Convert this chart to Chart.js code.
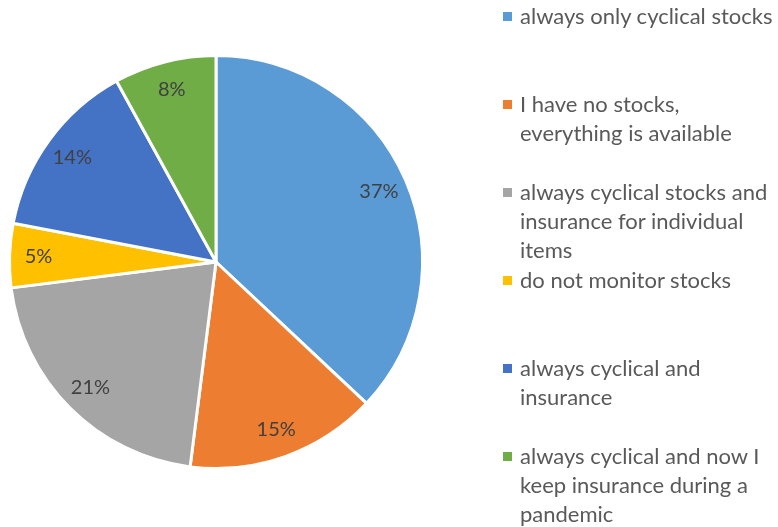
<!DOCTYPE html>
<html>
<head>
<meta charset="utf-8">
<script src="https://cdn.jsdelivr.net/npm/chart.js@4.4.1/dist/chart.umd.min.js"></script>
<style>
  html, body { margin: 0; padding: 0; background: #fff; }
  #wrap { position: relative; width: 778px; height: 527px; overflow: hidden; }
  #pie { position: absolute; left: 0; top: 0; }
  #legend { position: absolute; left: 0; top: 0; width: 778px; height: 527px; pointer-events: none;
    font-family: Lato, "Open Sans", sans-serif; font-size: 22px; color: #595959; }
  .item { position: absolute; left: 520px; line-height: 29px; white-space: nowrap; }
  .box { position: absolute; left: -17px; top: 11px; width: 9px; height: 9px; }
</style>
</head>
<body>
<div id="wrap">
  <canvas id="pie" width="778" height="527"></canvas>
  <div id="legend"></div>
</div>
<script>
// categories, one array per line of the wrapped legend text
var labels = [
  ["always only cyclical stocks"],
  ["I have no stocks,", "everything is available"],
  ["always cyclical stocks and", "insurance for individual", "items"],
  ["do not monitor stocks"],
  ["always cyclical and", "insurance"],
  ["always cyclical and now I", "keep insurance during a", "pandemic"]
];
var shares = [37, 15, 21, 5, 14, 8];
var colors = ["#5B9BD5", "#ED7D31", "#A5A5A5", "#FFC000", "#4472C4", "#70AD47"];

// percent labels inside the slices, near the rim
var pctLabels = {
  id: 'pctLabels',
  afterDatasetsDraw: function(chart) {
    var ctx = chart.ctx;
    var meta = chart.getDatasetMeta(0);
    ctx.save();
    ctx.font = '20px Lato, "Open Sans", sans-serif';
    ctx.fillStyle = '#404040';
    ctx.textAlign = 'center';
    ctx.textBaseline = 'middle';
    meta.data.forEach(function(arc, i) {
      var mid = (arc.startAngle + arc.endAngle) / 2;
      var r = arc.outerRadius * 0.86;
      ctx.fillText(shares[i] + '%', arc.x + Math.cos(mid) * r, arc.y + Math.sin(mid) * r);
    });
    ctx.restore();
  }
};

new Chart(document.getElementById('pie'), {
  type: 'pie',
  data: {
    labels: labels,
    datasets: [{
      data: shares,
      backgroundColor: colors,
      borderColor: '#ffffff',
      borderWidth: 3
    }]
  },
  options: {
    responsive: false,
    animation: false,
    layout: { padding: { left: 8, right: 354, top: 54, bottom: 57 } },
    plugins: {
      legend: { display: false },
      tooltip: { enabled: false }
    }
  },
  plugins: [pctLabels]
});

// html legend, items spaced evenly like the original
var legend = document.getElementById('legend');
labels.forEach(function(lines, i) {
  var item = document.createElement('div');
  item.className = 'item';
  item.style.top = (1 + i * 88) + 'px';
  var box = document.createElement('div');
  box.className = 'box';
  box.style.background = colors[i];
  item.appendChild(box);
  lines.forEach(function(line) {
    var d = document.createElement('div');
    d.textContent = line;
    item.appendChild(d);
  });
  legend.appendChild(item);
});
</script>
</body>
</html>
